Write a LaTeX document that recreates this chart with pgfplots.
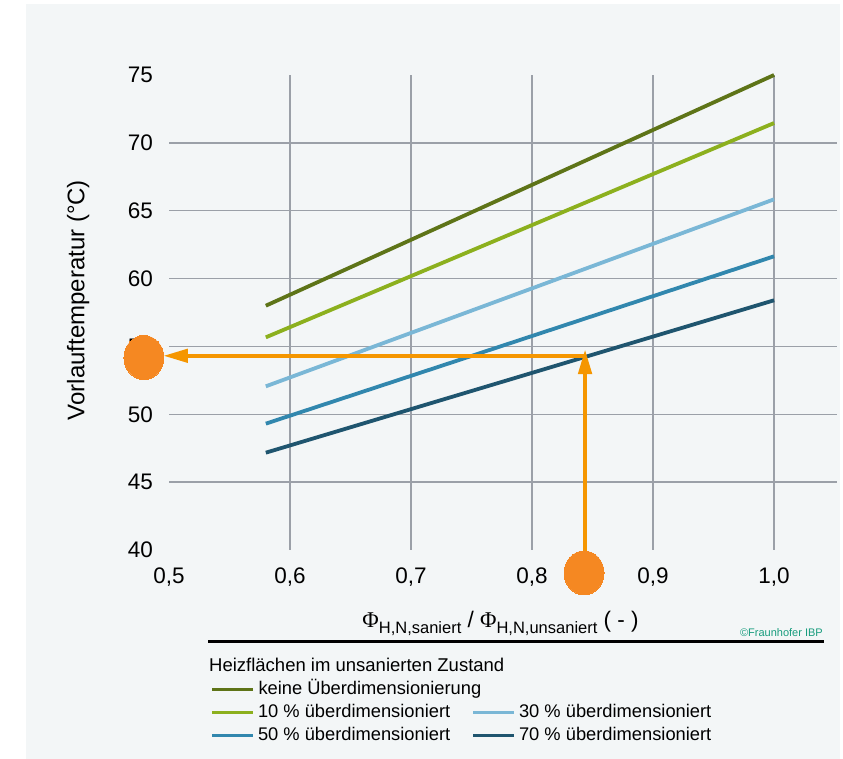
\documentclass[border=0pt]{standalone}
\usepackage{pgfplots}
\pgfplotsset{compat=1.18}
\usepackage{fontspec}
\setmainfont{Liberation Sans}
\newfontfamily\serifphi{Liberation Serif}
\usetikzlibrary{arrows.meta}
\definecolor{bg}{RGB}{243,246,247}
\definecolor{cA}{RGB}{94,116,24}
\definecolor{cB}{RGB}{140,176,30}
\definecolor{cC}{RGB}{122,183,214}
\definecolor{cD}{RGB}{49,135,174}
\definecolor{cE}{RGB}{31,85,111}
\definecolor{arr}{RGB}{245,150,0}
\definecolor{dot}{RGB}{245,136,34}
\definecolor{gridc}{RGB}{155,160,168}
\definecolor{fhg}{RGB}{23,156,125}
\begin{document}
\begin{tikzpicture}
\fill[bg] (26pt,0pt) rectangle (840pt,755pt);
\begin{axis}[
  at={(169pt,209pt)}, anchor=south west,
  scale only axis, width=668pt, height=475pt,
  xmin=0.5, xmax=1.052, ymin=40, ymax=75,
  clip=false,
  axis on top=false,
  axis line style={draw=none},
  tick style={draw=none},
  xtick={0.6,0.7,0.8,0.9,1.0},
  xticklabels={{0,6},{0,7},{0,8},{0,9},{1,0}},
  extra x ticks={0.5}, extra x tick labels={0{,}5},
  extra x tick style={grid=none},
  ytick={45,50,55,60,65,70},
  yticklabels={45,50,55,60,65,70},
  extra y ticks={40,75}, extra y tick labels={40,75},
  extra y tick style={grid=none},
  grid=major,
  major grid style={line width=1.5pt, gridc},
  tick label style={font=\fontsize{22.5}{26}\selectfont, inner sep=0pt},
  xticklabel style={anchor=base, yshift=-34pt},
  yticklabel style={anchor=east, xshift=-16pt},
  xlabel={{\serifphi Φ}\raisebox{-6pt}{\fontsize{16.5}{18}\selectfont H,N,saniert} / {\serifphi Φ}\raisebox{-6pt}{\fontsize{16.5}{18}\selectfont H,N,unsaniert} ( - )},
  xlabel style={at={(axis description cs:0.4963,-0.1642)}, anchor=base, font=\fontsize{22.5}{26}\selectfont, inner sep=0pt},
  ylabel={Vorlauftemperatur (°C)},
  ylabel style={at={(axis description cs:-0.136,0.526)}, anchor=center, font=\fontsize{24}{28}\selectfont, inner sep=0pt},
  legend columns=2,
  legend cell align=left,
  legend image code/.code={\draw[#1] (0pt,0pt) -- (41pt,0pt);},
  legend style={at={(axis description cs:0.0614,-0.2747)}, anchor=north west,
    draw=none, fill=none, inner sep=0pt,
    font=\fontsize{18.3}{22}\selectfont,
    nodes={inner sep=0pt, text height=13.5pt, text depth=4pt},
    row sep=5.5pt,
    /tikz/every odd column/.append style={column sep=3pt},
    /tikz/every even column/.append style={column sep=21pt}},
]
\addplot[cA, line width=3.8pt] coordinates {(0.58,58.0) (1.0,75.0)};
\addlegendentry{\makebox[0pt][l]{keine Überdimensionierung}}
\addlegendimage{empty legend}\addlegendentry{}
\addplot[cB, line width=3.8pt] coordinates {(0.58,55.67) (1.0,71.46)};
\addlegendentry{10 \% überdimensioniert}
\addplot[cC, line width=3.8pt] coordinates {(0.58,52.06) (1.0,65.84)};
\addlegendentry{30 \% überdimensioniert}
\addplot[cD, line width=3.8pt] coordinates {(0.58,49.31) (1.0,61.64)};
\addlegendentry{50 \% überdimensioniert}
\addplot[cE, line width=3.8pt] coordinates {(0.58,47.17) (1.0,58.40)};
\addlegendentry{70 \% überdimensioniert}
\addplot[arr, line width=4.5pt, -{Triangle[length=25pt,width=13pt]}, forget plot] coordinates {(0.8438,54.31) (0.495,54.31)};
\addplot[arr, line width=4.5pt, -{Triangle[length=25pt,width=13pt]}, forget plot] coordinates {(0.8438,39.9) (0.8438,54.81)};
\addplot[dot, only marks, mark=*, mark size=20pt, mark options={fill=dot, draw=dot, line width=0pt, yscale=1.1}, forget plot] coordinates {(0.4793,54.18) (0.843,38.31)};
\end{axis}
\draw[line width=3pt] (208pt,117pt) -- (824pt,117pt);
\node[anchor=base east, inner sep=0pt, text=fhg, font=\fontsize{11}{13}\selectfont] at (823pt,122pt) {©Fraunhofer IBP};
\node[anchor=base west, inner sep=0pt, font=\fontsize{18.5}{22}\selectfont] at (209pt,87pt) {Heizflächen im unsanierten Zustand};
\pgfresetboundingbox
\path[use as bounding box] (0pt,0pt) rectangle (843pt,759pt);
\end{tikzpicture}
\end{document}
